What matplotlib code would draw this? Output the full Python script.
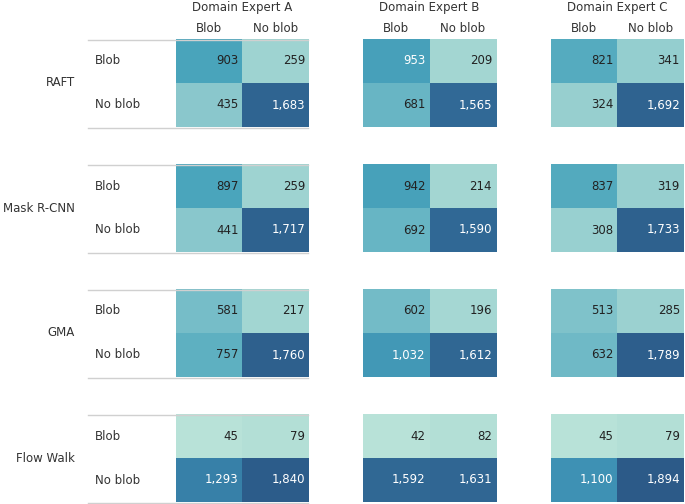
import numpy as np
import matplotlib
matplotlib.use('Agg')
import matplotlib.pyplot as plt
from matplotlib.colors import LinearSegmentedColormap, Normalize

# confusion counts: [[blob/blob, blob/no blob], [no blob/blob, no blob/no blob]]
# one 2x2 per domain expert (A, B, C)
raft = [[[903, 259], [435, 1683]],
        [[953, 209], [681, 1565]],
        [[821, 341], [324, 1692]]]
mask_rcnn = [[[897, 259], [441, 1717]],
             [[942, 214], [692, 1590]],
             [[837, 319], [308, 1733]]]
gma = [[[581, 217], [757, 1760]],
       [[602, 196], [1032, 1612]],
       [[513, 285], [632, 1789]]]
flow_walk = [[[45, 79], [1293, 1840]],
             [[42, 82], [1592, 1631]],
             [[45, 79], [1100, 1894]]]

models = ['RAFT', 'Mask R-CNN', 'GMA', 'Flow Walk']
experts = ['Domain Expert A', 'Domain Expert B', 'Domain Expert C']
classes = ['Blob', 'No blob']

data = [raft, mask_rcnn, gma, flow_walk]

W, H = 685, 504
fig = plt.figure(figsize=(W / 100, H / 100), dpi=100)

# tableau-ish blue-teal
cmap = LinearSegmentedColormap.from_list('blueteal', [
    (0.0, '#b8e2d8'), (0.12, '#9dd3d1'), (0.21, '#8bc8cd'),
    (0.30, '#74bcc8'), (0.465, '#4aa5bc'), (0.60, '#3b8db2'),
    (0.80, '#326c98'), (1.0, '#2c5a88')])
allv = np.array(data)
norm = Normalize(vmin=allv.min(), vmax=allv.max())

txt = '#333333'
fs = 8.5
fam = 'DejaVu Sans'

# layout in pixels
col_left = [176, 363, 551]
blk_w = 133
row_top = [39, 164, 289, 414]
blk_h = 88


def fx(px):
    return px / W


def fy(py):
    return 1 - py / H


# headers
for e, name in enumerate(experts):
    cx = col_left[e] + blk_w / 2
    fig.text(fx(cx), fy(8), name, ha='center', va='center', fontsize=fs,
             color=txt, family=fam)
    for j, c in enumerate(classes):
        fig.text(fx(col_left[e] + blk_w * (j + 0.5) / 2), fy(29), c,
                 ha='center', va='center', fontsize=fs, color=txt, family=fam)

for m, model in enumerate(models):
    top = row_top[m]
    fig.text(fx(75), fy(top + blk_h / 2), model, ha='right', va='center',
             fontsize=fs, color=txt, family=fam)
    for i, c in enumerate(classes):
        fig.text(fx(95), fy(top + blk_h * (i + 0.5) / 2), c, ha='left',
                 va='center', fontsize=fs, color=txt, family=fam)
    for e in range(3):
        ax = fig.add_axes([fx(col_left[e]), fy(top + blk_h), fx(blk_w), blk_h / H])
        mat = np.array(data[m][e])
        ax.imshow(mat, cmap=cmap, norm=norm, aspect='auto')
        ax.axis('off')
        for i in range(2):
            for j in range(2):
                v = mat[i, j]
                ax.text(j + 0.44, i, f'{v:,}', ha='right', va='center',
                        fontsize=fs, family=fam,
                        color='white' if v > 945 else '#222222')
    # separator lines (drawn on top)
    lax = fig.add_axes([fx(88), fy(top + blk_h + 1), fx(308 - 88), (blk_h + 1) / H])
    lax.axis('off')
    lax.set_xlim(0, 1)
    lax.set_ylim(0, blk_h + 1)
    lax.axhline(blk_h + 0.5, color='#d0d0d0', lw=1, clip_on=False, zorder=0)
    lax.axhline(0.5, color='#d0d0d0', lw=1, clip_on=False)

fig.savefig('out.png', dpi=100)
